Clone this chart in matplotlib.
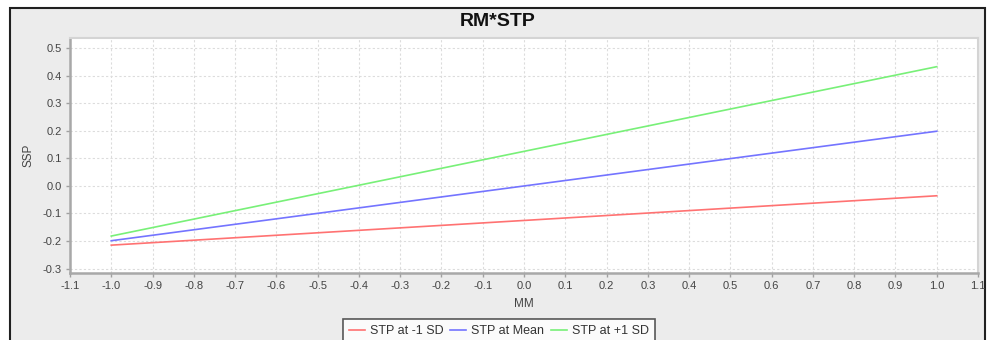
import matplotlib
matplotlib.use("Agg")
import matplotlib.pyplot as plt
from matplotlib.patches import Rectangle
from matplotlib.ticker import FormatStrFormatter, MultipleLocator

plt.rcParams['font.family'] = ['Liberation Sans', 'DejaVu Sans']

title = "RM*STP"
x_label = "MM"
y_label = "SSP"
mm = [-1.0, 1.0]
series_names = ["STP at -1 SD", "STP at Mean", "STP at +1 SD"]
stp_low = [-0.215, -0.036]
stp_mean = [-0.199, 0.198]
stp_high = [-0.182, 0.432]
series_colors = ["#ff7272", "#7474ff", "#78f078"]

W, H = 988, 340
fig = plt.figure(figsize=(W / 100, H / 100), dpi=100)
fig.patch.set_facecolor("white")

# outer panel with black border
fig.patches.append(Rectangle((10 / W, -0.1), 975 / W, 1.1 - 8 / H,
                             transform=fig.transFigure, facecolor="#ececec",
                             edgecolor="#202020", linewidth=1.5, zorder=-10))

ax = fig.add_axes([70 / W, 1 - 273 / H, (978 - 70) / W, (273 - 38) / H])
ax.set_facecolor("white")

for vals, name, col in zip([stp_low, stp_mean, stp_high], series_names, series_colors):
    ax.plot(mm, vals, color=col, linewidth=1.2, label=name)

ax.set_xlim(-1.1, 1.1)
ax.set_ylim(-0.316, 0.536)
ax.xaxis.set_major_locator(MultipleLocator(0.1))
ax.yaxis.set_major_locator(MultipleLocator(0.1))
ax.xaxis.set_major_formatter(FormatStrFormatter('%.1f'))
ax.yaxis.set_major_formatter(FormatStrFormatter('%.1f'))
ax.grid(True, color="#dcdcdc", linestyle=(0, (2, 2)), linewidth=0.8)
ax.set_axisbelow(True)

for s in ["left", "bottom"]:
    ax.spines[s].set_color("#a8a8a8")
    ax.spines[s].set_linewidth(1.8)
for s in ["top", "right"]:
    ax.spines[s].set_color("#d4d4d4")
    ax.spines[s].set_linewidth(1.5)
ax.tick_params(axis="both", colors="#a0a0a0", labelcolor="#444444",
               labelsize=8, length=3, width=1, direction="out", pad=3)

ax.set_xlabel(x_label, fontsize=8.5, color="#444444", labelpad=5)
ax.set_ylabel(y_label, fontsize=8.5, color="#444444", labelpad=6)

fig.text(498 / W, 1 - 22 / H, title, ha="center", va="center",
         fontsize=14, fontweight="bold", color="#111111")

handles, labels = ax.get_legend_handles_labels()
leg = fig.legend(handles, labels, loc="upper center",
                 bbox_to_anchor=(499 / W, 1 - 319 / H), ncol=3,
                 fontsize=9, frameon=True, fancybox=False,
                 handlelength=1.3, handletextpad=0.4, columnspacing=0.5,
                 borderpad=0.5, borderaxespad=0)
leg.get_frame().set_edgecolor("#303030")
leg.get_frame().set_linewidth(1.2)
leg.get_frame().set_facecolor("white")
for t in leg.get_texts():
    t.set_color("#333333")

fig.savefig("out.png", dpi=100, facecolor=fig.get_facecolor())
